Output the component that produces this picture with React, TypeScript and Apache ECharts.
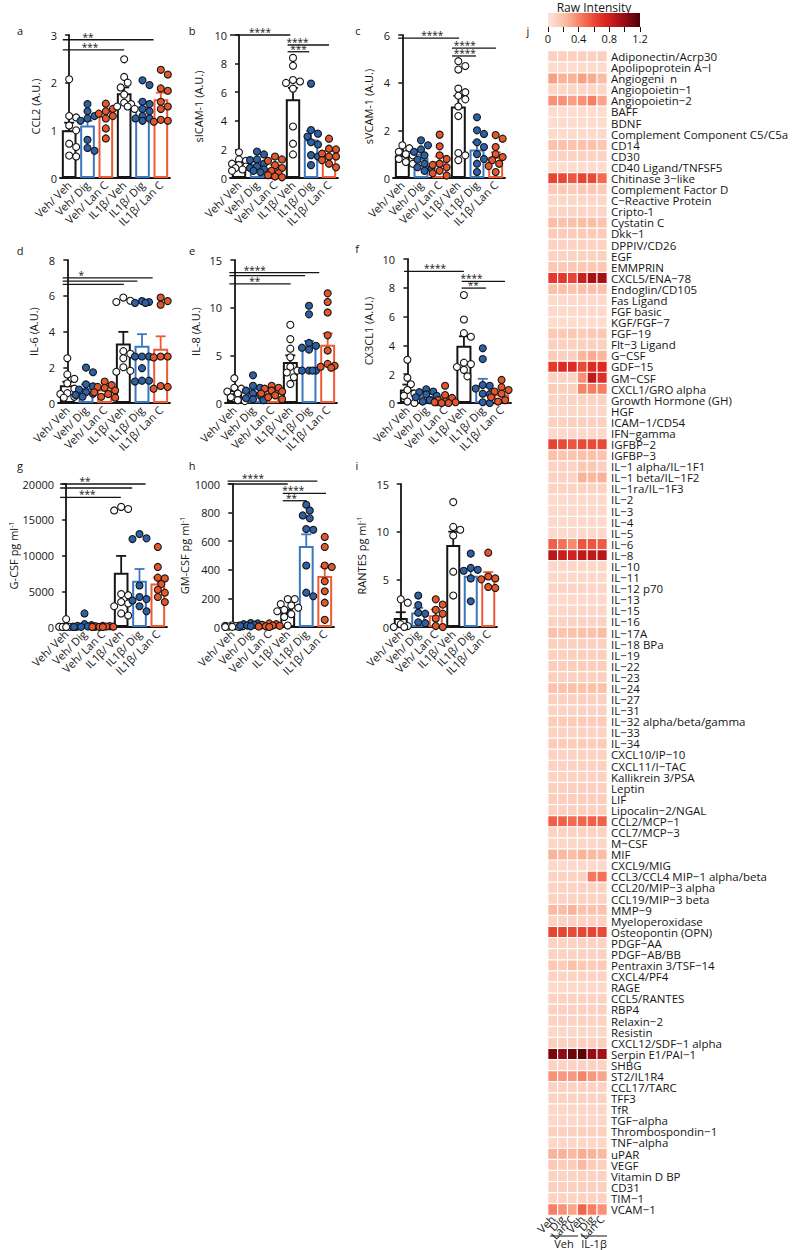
import React, { useEffect, useRef } from "react";
import * as echarts from "echarts";

const FONT = "'Open Sans', 'Noto Sans', sans-serif";

const groups = ["Veh/ Veh", "Veh/ Dig", "Veh/ Lan C", "IL1β/ Veh", "IL1β/ Dig", "IL1β/ Lan C"];
const barColors = ["#151515", "#3a77bf", "#ee5a32", "#151515", "#3a77bf", "#ee5a32"];
const dotFills = ["#ffffff", "#2c61a8", "#e5572b", "#ffffff", "#2c61a8", "#e5572b"];

// ---- a: CCL2 ----
const ccl2Means = [1.0, 1.1, 1.3, 1.78, 1.5, 1.65];
const ccl2Sems = [0.16, 0.1, 0.08, 0.12, 0.1, 0.14];
const ccl2Points = [
  [2.07, 1.27, 1.3, 1.1, 1.0, 0.65, 0.72, 0.45, 0.47],
  [1.55, 1.4, 1.3, 1.25, 1.2, 0.8, 0.63, 0.57],
  [1.56, 1.45, 1.4, 1.35, 1.3, 1.25, 1.04, 0.83],
  [2.49, 2.12, 2.0, 1.9, 1.75, 1.58, 1.55, 1.5, 1.5, 1.45],
  [2.05, 1.95, 1.6, 1.55, 1.45, 1.4, 1.3, 1.25, 1.25, 1.2],
  [2.27, 2.17, 1.88, 1.83, 1.6, 1.5, 1.45, 1.22, 1.2, 1.18],
];
const ccl2Sig: [number, number, number, number, string][] = [
  [-0.35, 4.6, 2.9, 1.03, "**"],
  [-0.35, 3.0, 2.69, 1.14, "***"],
];

// ---- b: sICAM-1 ----
const icamMeans = [0.95, 1.0, 0.7, 5.5, 2.7, 1.6];
const icamSems = [0.15, 0.15, 0.2, 0.8, 0.6, 0.3];
const icamPoints = [
  [1.8, 1.3, 1.2, 1.0, 0.9, 0.8, 0.7, 0.6, 0.5],
  [1.85, 1.65, 1.3, 1.25, 1.0, 0.8, 0.7, 0.6, 0.5, 0.4],
  [1.5, 1.3, 1.2, 0.9, 0.7, 0.5, 0.35, 0.2, 0.1, 0.05],
  [8.4, 7.85, 6.85, 6.75, 6.65, 6.25, 3.6, 2.4, 1.65],
  [6.6, 3.35, 3.1, 2.9, 2.5, 2.35, 1.6, 1.5, 0.9],
  [2.75, 2.05, 2.0, 1.7, 1.5, 1.5, 1.25, 1.0, 0.75],
];
const icamSig: [number, number, number, number, string][] = [
  [-0.5, 2.85, 10, 1.17, "****"],
  [2.7, 5.0, 9.3, 3.25, "****"],
  [2.7, 3.9, 8.83, 3.3, "***"],
];

// ---- c: sVCAM-1 ----
const vcamMeans = [0.95, 0.85, 0.7, 3.0, 1.2, 0.88];
const vcamSems = [0.1, 0.13, 0.2, 0.45, 0.3, 0.2];
const vcamPoints = [
  [1.37, 1.25, 1.1, 1.0, 0.95, 0.9, 0.8, 0.67, 0.6],
  [1.58, 1.37, 1.2, 1.1, 0.95, 0.77, 0.6, 0.45, 0.4, 0.3],
  [1.82, 1.33, 0.95, 0.8, 0.6, 0.55, 0.45, 0.3, 0.2, 0.1],
  [4.9, 4.7, 4.55, 3.75, 3.6, 3.45, 3.3, 3.0, 2.6, 1.05, 0.95, 0.75],
  [2.55, 2.0, 1.85, 1.5, 1.3, 1.0, 0.8, 0.6, 0.25],
  [1.8, 1.65, 1.3, 1.0, 0.88, 0.75, 0.6, 0.5, 0.25],
];
const vcamSig: [number, number, number, number, string][] = [
  [-0.23, 3.04, 5.87, 1.6, "****"],
  [2.66, 5.02, 5.45, 3.35, "****"],
  [2.66, 3.95, 5.12, 3.35, "****"],
];

// ---- d: IL-6 ----
const il6Means = [0.99, 0.84, 0.75, 3.33, 3.2, 3.03];
const il6Sems = [0.2, 0.2, 0.15, 0.65, 0.65, 0.7];
const il6Points = [
  [2.5, 1.6, 1.35, 1.1, 0.8, 0.55, 0.5, 0.35, 0.3, 0.15],
  [1.98, 1.72, 1.05, 0.93, 0.75, 0.6, 0.52, 0.45, 0.35],
  [1.2, 1.0, 0.9, 0.85, 0.7, 0.6, 0.5, 0.35, 0.3],
  [5.9, 5.72, 5.65, 2.9, 2.75, 2.5, 2.0, 1.8, 1.75],
  [5.7, 5.65, 5.6, 5.6, 2.6, 2.6, 2.6, 1.95, 1.25, 1.25, 1.2],
  [5.9, 5.7, 5.5, 2.6, 2.6, 2.55, 0.95, 0.9, 0.8],
];
const il6Sig: [number, number, number, number, string][] = [
  [-0.25, 4.57, 7.0, 0.75, "*"],
  [-0.25, 3.75, 6.82, 0, ""],
  [-0.25, 3.03, 6.64, 0, ""],
];

// ---- e: IL-8 ----
const il8Means = [1.0, 1.15, 1.1, 4.3, 5.9, 6.1];
const il8Sems = [0.25, 0.3, 0.15, 0.7, 0.6, 1.2];
const il8Points = [
  [2.6, 1.6, 1.5, 1.2, 1.0, 0.8, 0.6, 0.4, 0.3, 0.2],
  [2.9, 1.8, 1.6, 1.3, 1.0, 0.8, 0.5, 0.4, 0.3],
  [1.8, 1.6, 1.5, 1.3, 1.2, 1.0, 0.8, 0.6, 0.4],
  [8.2, 6.7, 5.7, 4.8, 3.8, 3.4, 3.2, 2.7, 2.0],
  [10.2, 9.3, 6.3, 6.0, 5.8, 5.6, 3.4, 3.4, 3.4, 3.4],
  [11.5, 10.6, 9.5, 7.1, 5.5, 4.1, 3.9, 3.8, 3.7],
];
const il8Sig: [number, number, number, number, string][] = [
  [-0.27, 4.55, 13.67, 1.1, "****"],
  [-0.27, 3.79, 13.36, 0, ""],
  [-0.27, 3.02, 12.49, 1.1, "**"],
];

// ---- f: CX3CL1 ----
const cx3Means = [0.93, 0.49, 0.23, 3.98, 1.23, 0.6];
const cx3Sems = [0.35, 0.15, 0.15, 0.65, 0.45, 0.2];
const cx3Points = [
  [3.0, 1.75, 1.3, 0.9, 0.65, 0.5, 0.3, 0.1, 0.0],
  [0.95, 0.8, 0.75, 0.6, 0.5, 0.4, 0.2, 0.1, 0.05],
  [1.2, 0.55, 0.35, 0.2, 0.1, 0.05, 0.05, 0.0, 0.0],
  [7.5, 5.8, 4.85, 4.6, 2.8, 2.7, 2.5, 2.3, 1.85],
  [3.8, 3.05, 1.25, 1.2, 1.0, 0.65, 0.6, 0.05, 0.0],
  [1.6, 1.1, 0.9, 0.8, 0.65, 0.5, 0.4, 0.2, 0.1],
];
const cx3Sig: [number, number, number, number, string][] = [
  [-0.18, 3.0, 9.14, 1.46, "****"],
  [2.88, 5.18, 8.44, 3.4, "****"],
  [2.88, 4.17, 7.98, 3.5, "**"],
];

// ---- g: G-CSF ----
const gcsfMeans = [50, 250, 100, 7590, 6460, 6090];
const gcsfSems = [60, 200, 40, 2350, 1650, 850];
const gcsfPoints = [
  [1100, 100, 60, 40, 30, 20, 10, 0, 0, 0],
  [1900, 400, 250, 150, 80, 40, 20, 0],
  [150, 120, 90, 60, 40, 20, 10, 0],
  [16800, 16500, 16300, 4600, 4450, 3500, 3300, 2900, 1900, 1600],
  [13000, 12400, 12300, 5800, 4200, 3900, 3700, 2900, 2200],
  [11200, 8400, 6900, 6800, 6000, 5200, 4800, 4200, 3500],
];
const gcsfSig: [number, number, number, number, string][] = [
  [-0.33, 4.33, 20000, 1.03, "**"],
  [-0.33, 3.6, 19440, 0, ""],
  [-0.33, 2.98, 18130, 1.15, "***"],
];

// ---- h: GM-CSF ----
const gmcsfMeans = [5, 15, 10, 100, 566, 357];
const gmcsfSems = [2, 5, 4, 20, 82, 65];
const gmcsfPoints = [
  [12, 10, 8, 6, 5, 3, 2, 1, 0, 0],
  [28, 25, 20, 15, 12, 10, 8, 5],
  [25, 20, 15, 10, 8, 5, 3, 0],
  [195, 195, 160, 150, 135, 120, 110, 90, 70, 10],
  [855, 815, 780, 760, 685, 680, 430, 240, 215],
  [630, 560, 430, 420, 320, 250, 170, 50],
];
const gmcsfSig: [number, number, number, number, string][] = [
  [-0.25, 4.6, 1020, 1.12, "****"],
  [-0.25, 3.0, 1000, 0, ""],
  [2.73, 5.07, 935, 3.3, "****"],
  [2.73, 4.02, 883, 3.2, "**"],
];

// ---- i: RANTES ----
const rantesMeans = [0.95, 1.51, 1.23, 8.6, 5.37, 5.16];
const rantesSems = [0.6, 0.5, 0.6, 1.4, 0.7, 0.6];
const rantesPoints = [
  [2.9, 2.55, 0.3, 0.1, 0.0, 0.0],
  [3.3, 2.3, 1.5, 1.4, 0.5, 0.4],
  [2.9, 2.35, 1.8, 1.4, 0.9, 0.1, 0.0],
  [13.1, 10.5, 10.2, 9.6, 5.8, 3.3],
  [7.7, 6.2, 6.0, 5.9, 5.1, 2.7],
  [7.8, 5.3, 5.1, 5.0, 4.2, 4.1],
];
const rantesSig: [number, number, number, number, string][] = [];

// ---- j: heatmap ----
const heatColumns = ["Veh", "Dig", "Lan C", "Veh", "Dig", "Lan C"];
const heatColors = ["#fde6dc", "#fbb9a0", "#f46a4e", "#de2a22", "#a50f15", "#4f0008"];
const proteins = [
  "Adiponectin/Acrp30", "Apolipoprotein A−I", "Angiogeni  n", "Angiopoietin−1", "Angiopoietin−2",
  "BAFF", "BDNF", "Complement Component C5/C5a", "CD14", "CD30", "CD40 Ligand/TNFSF5",
  "Chitinase 3−like", "Complement Factor D", "C−Reactive Protein", "Cripto-1", "Cystatin C",
  "Dkk−1", "DPPIV/CD26", "EGF", "EMMPRIN", "CXCL5/ENA−78", "Endoglin/CD105", "Fas Ligand",
  "FGF basic", "KGF/FGF−7", "FGF−19", "Flt−3 Ligand", "G−CSF", "GDF−15", "GM−CSF",
  "CXCL1/GRO alpha", "Growth Hormone (GH)", "HGF", "ICAM−1/CD54", "IFN−gamma", "IGFBP−2",
  "IGFBP−3", "IL−1 alpha/IL−1F1", "IL−1 beta/IL−1F2", "IL−1ra/IL−1F3", "IL−2", "IL−3", "IL−4",
  "IL−5", "IL−6", "IL−8", "IL−10", "IL−11", "IL−12 p70", "IL−13", "IL−15", "IL−16", "IL−17A",
  "IL−18 BPa", "IL−19", "IL−22", "IL−23", "IL−24", "IL−27", "IL−31", "IL−32 alpha/beta/gamma",
  "IL−33", "IL−34", "CXCL10/IP−10", "CXCL11/I−TAC", "Kallikrein 3/PSA", "Leptin", "LIF",
  "Lipocalin−2/NGAL", "CCL2/MCP−1", "CCL7/MCP−3", "M−CSF", "MIF", "CXCL9/MIG",
  "CCL3/CCL4 MIP−1 alpha/beta", "CCL20/MIP−3 alpha", "CCL19/MIP−3 beta", "MMP−9",
  "Myeloperoxidase", "Osteopontin (OPN)", "PDGF−AA", "PDGF−AB/BB", "Pentraxin 3/TSF−14",
  "CXCL4/PF4", "RAGE", "CCL5/RANTES", "RBP4", "Relaxin−2", "Resistin", "CXCL12/SDF−1 alpha",
  "Serpin E1/PAI−1", "SHBG", "ST2/IL1R4", "CCL17/TARC", "TFF3", "TfR", "TGF−alpha",
  "Thrombospondin−1", "TNF−alpha", "uPAR", "VEGF", "Vitamin D BP", "CD31", "TIM−1", "VCAM−1",
];
const intensity: number[][] = [
  [0.12, 0.12, 0.12, 0.12, 0.12, 0.12],
  [0.06, 0.06, 0.06, 0.06, 0.06, 0.06],
  [0.32, 0.26, 0.26, 0.32, 0.28, 0.22],
  [0.08, 0.08, 0.08, 0.08, 0.08, 0.08],
  [0.36, 0.36, 0.32, 0.36, 0.42, 0.3],
  [0.05, 0.05, 0.05, 0.05, 0.05, 0.05],
  [0.06, 0.06, 0.06, 0.06, 0.06, 0.06],
  [0.07, 0.07, 0.07, 0.07, 0.07, 0.07],
  [0.2, 0.2, 0.18, 0.2, 0.2, 0.16],
  [0.1, 0.1, 0.1, 0.1, 0.1, 0.1],
  [0.06, 0.06, 0.06, 0.06, 0.06, 0.06],
  [0.62, 0.6, 0.55, 0.62, 0.6, 0.48],
  [0.16, 0.16, 0.14, 0.16, 0.16, 0.14],
  [0.08, 0.08, 0.08, 0.08, 0.08, 0.08],
  [0.09, 0.09, 0.09, 0.09, 0.09, 0.09],
  [0.22, 0.2, 0.2, 0.22, 0.22, 0.18],
  [0.15, 0.15, 0.14, 0.15, 0.15, 0.14],
  [0.1, 0.1, 0.1, 0.1, 0.1, 0.1],
  [0.1, 0.1, 0.1, 0.1, 0.1, 0.1],
  [0.16, 0.16, 0.16, 0.16, 0.16, 0.16],
  [0.66, 0.66, 0.62, 0.8, 0.95, 0.95],
  [0.2, 0.2, 0.18, 0.2, 0.2, 0.2],
  [0.07, 0.07, 0.07, 0.07, 0.07, 0.07],
  [0.07, 0.07, 0.07, 0.07, 0.07, 0.07],
  [0.06, 0.06, 0.06, 0.06, 0.06, 0.06],
  [0.16, 0.16, 0.16, 0.14, 0.16, 0.16],
  [0.12, 0.12, 0.12, 0.12, 0.12, 0.12],
  [0.14, 0.12, 0.12, 0.25, 0.28, 0.25],
  [0.66, 0.72, 0.72, 0.6, 0.72, 0.72],
  [0.1, 0.1, 0.1, 0.36, 0.85, 0.7],
  [0.14, 0.12, 0.12, 0.4, 0.42, 0.42],
  [0.1, 0.1, 0.1, 0.1, 0.1, 0.1],
  [0.08, 0.08, 0.08, 0.08, 0.08, 0.08],
  [0.12, 0.12, 0.12, 0.12, 0.12, 0.12],
  [0.07, 0.07, 0.07, 0.07, 0.07, 0.07],
  [0.62, 0.6, 0.56, 0.6, 0.6, 0.6],
  [0.2, 0.18, 0.18, 0.2, 0.2, 0.18],
  [0.1, 0.1, 0.1, 0.16, 0.16, 0.12],
  [0.1, 0.1, 0.1, 0.26, 0.24, 0.26],
  [0.1, 0.1, 0.1, 0.1, 0.1, 0.1],
  [0.07, 0.07, 0.07, 0.07, 0.07, 0.07],
  [0.07, 0.07, 0.07, 0.07, 0.07, 0.07],
  [0.07, 0.07, 0.07, 0.07, 0.07, 0.07],
  [0.07, 0.07, 0.07, 0.07, 0.07, 0.07],
  [0.52, 0.46, 0.38, 0.56, 0.56, 0.54],
  [0.88, 0.82, 0.78, 0.86, 0.86, 0.88],
  [0.08, 0.08, 0.08, 0.08, 0.08, 0.08],
  [0.07, 0.07, 0.07, 0.07, 0.07, 0.07],
  [0.09, 0.09, 0.09, 0.09, 0.09, 0.09],
  [0.07, 0.07, 0.07, 0.07, 0.07, 0.07],
  [0.08, 0.08, 0.08, 0.08, 0.08, 0.08],
  [0.1, 0.1, 0.1, 0.1, 0.1, 0.1],
  [0.2, 0.18, 0.2, 0.2, 0.2, 0.22],
  [0.12, 0.12, 0.12, 0.12, 0.12, 0.12],
  [0.12, 0.12, 0.12, 0.12, 0.12, 0.12],
  [0.13, 0.13, 0.13, 0.13, 0.13, 0.13],
  [0.12, 0.12, 0.12, 0.12, 0.12, 0.12],
  [0.2, 0.2, 0.2, 0.2, 0.2, 0.2],
  [0.12, 0.12, 0.12, 0.12, 0.12, 0.12],
  [0.1, 0.1, 0.1, 0.1, 0.1, 0.1],
  [0.14, 0.14, 0.14, 0.14, 0.14, 0.14],
  [0.1, 0.1, 0.1, 0.1, 0.1, 0.1],
  [0.14, 0.14, 0.14, 0.14, 0.14, 0.14],
  [0.1, 0.1, 0.1, 0.1, 0.1, 0.1],
  [0.1, 0.1, 0.1, 0.1, 0.1, 0.1],
  [0.1, 0.1, 0.1, 0.1, 0.1, 0.1],
  [0.12, 0.12, 0.12, 0.12, 0.12, 0.12],
  [0.13, 0.13, 0.13, 0.13, 0.13, 0.13],
  [0.12, 0.12, 0.12, 0.12, 0.12, 0.12],
  [0.52, 0.52, 0.48, 0.5, 0.52, 0.52],
  [0.1, 0.1, 0.1, 0.1, 0.1, 0.1],
  [0.08, 0.08, 0.08, 0.08, 0.08, 0.08],
  [0.26, 0.24, 0.22, 0.26, 0.24, 0.22],
  [0.07, 0.07, 0.07, 0.07, 0.07, 0.07],
  [0.1, 0.1, 0.1, 0.1, 0.44, 0.46],
  [0.1, 0.1, 0.1, 0.1, 0.1, 0.1],
  [0.1, 0.1, 0.1, 0.1, 0.1, 0.1],
  [0.24, 0.22, 0.26, 0.2, 0.2, 0.2],
  [0.1, 0.1, 0.1, 0.1, 0.1, 0.1],
  [0.62, 0.62, 0.6, 0.62, 0.62, 0.6],
  [0.1, 0.1, 0.1, 0.1, 0.1, 0.1],
  [0.1, 0.1, 0.1, 0.1, 0.1, 0.1],
  [0.16, 0.14, 0.2, 0.16, 0.14, 0.14],
  [0.1, 0.1, 0.1, 0.1, 0.1, 0.1],
  [0.07, 0.07, 0.07, 0.07, 0.07, 0.07],
  [0.1, 0.1, 0.1, 0.1, 0.1, 0.1],
  [0.12, 0.12, 0.12, 0.12, 0.12, 0.12],
  [0.1, 0.1, 0.1, 0.1, 0.1, 0.1],
  [0.08, 0.08, 0.08, 0.08, 0.08, 0.08],
  [0.12, 0.12, 0.12, 0.12, 0.12, 0.12],
  [1.08, 1.02, 1.12, 1.16, 1.0, 0.96],
  [0.1, 0.1, 0.1, 0.1, 0.1, 0.1],
  [0.36, 0.34, 0.34, 0.4, 0.34, 0.3],
  [0.1, 0.1, 0.1, 0.1, 0.1, 0.1],
  [0.1, 0.1, 0.1, 0.1, 0.1, 0.1],
  [0.08, 0.08, 0.08, 0.08, 0.08, 0.08],
  [0.08, 0.08, 0.08, 0.08, 0.08, 0.08],
  [0.12, 0.12, 0.12, 0.12, 0.12, 0.12],
  [0.08, 0.08, 0.08, 0.08, 0.08, 0.08],
  [0.26, 0.26, 0.24, 0.28, 0.26, 0.24],
  [0.16, 0.14, 0.14, 0.24, 0.14, 0.12],
  [0.1, 0.1, 0.1, 0.1, 0.1, 0.1],
  [0.12, 0.12, 0.12, 0.12, 0.12, 0.12],
  [0.1, 0.1, 0.1, 0.1, 0.1, 0.1],
  [0.42, 0.36, 0.3, 0.5, 0.42, 0.36],
];

type Panel = {
  key: string;
  name: string;
  means: number[];
  sems: number[];
  points: number[][];
  sig: [number, number, number, number, string][];
  max: number;
  interval: number;
  box: { left: number; top: number; width: number; height: number };
  nameGap: number;
  letter: [number, number];
};

const panels: Panel[] = [
  { key: "a", name: "CCL2 (A.U.)", means: ccl2Means, sems: ccl2Sems, points: ccl2Points, sig: ccl2Sig, max: 3, interval: 1, box: { left: 60, top: 35, width: 110, height: 143 }, nameGap: 19, letter: [20, 30] },
  { key: "b", name: "sICAM-1 (A.U.)", means: icamMeans, sems: icamSems, points: icamPoints, sig: icamSig, max: 10, interval: 2, box: { left: 230, top: 35, width: 108, height: 143 }, nameGap: 26, letter: [192, 30] },
  { key: "c", name: "sVCAM-1 (A.U.)", means: vcamMeans, sems: vcamSems, points: vcamPoints, sig: vcamSig, max: 6, interval: 2, box: { left: 393, top: 35, width: 112, height: 143 }, nameGap: 19, letter: [358, 30] },
  { key: "d", name: "IL-6 (A.U.)", means: il6Means, sems: il6Sems, points: il6Points, sig: il6Sig, max: 8, interval: 2, box: { left: 58, top: 260, width: 112, height: 143 }, nameGap: 19, letter: [20, 250] },
  { key: "e", name: "IL-8 (A.U.)", means: il8Means, sems: il8Sems, points: il8Points, sig: il8Sig, max: 15, interval: 5, box: { left: 225, top: 260, width: 112, height: 143 }, nameGap: 24, letter: [192, 250] },
  { key: "f", name: "CX3CL1 (A.U.)", means: cx3Means, sems: cx3Sems, points: cx3Points, sig: cx3Sig, max: 10, interval: 2, box: { left: 398, top: 259, width: 113, height: 144 }, nameGap: 24, letter: [357, 248] },
  { key: "g", name: "G-CSF pg ml{sup|-1}", means: gcsfMeans, sems: gcsfSems, points: gcsfPoints, sig: gcsfSig, max: 20000, interval: 5000, box: { left: 57, top: 484, width: 110, height: 143 }, nameGap: 37, letter: [20, 465] },
  { key: "h", name: "GM-CSF pg ml{sup|-1}", means: gmcsfMeans, sems: gmcsfSems, points: gmcsfPoints, sig: gmcsfSig, max: 1000, interval: 200, box: { left: 223, top: 484, width: 111, height: 143 }, nameGap: 33, letter: [192, 465] },
  { key: "i", name: "RANTES pg ml{sup|-1}", means: rantesMeans, sems: rantesSems, points: rantesPoints, sig: rantesSig, max: 15, interval: 5, box: { left: 392, top: 484, width: 105, height: 143 }, nameGap: 25, letter: [357, 465] },
];

// deterministic beeswarm offsets (in category units)
function swarm(values: number[], pxPerUnit: number, catPx: number, diam: number): number[] {
  const order = values.map((_, i) => i).sort((a, b) => values[b] - values[a]);
  const placed: { x: number; y: number }[] = [];
  const offs = new Array(values.length).fill(0);
  const maxOff = catPx * 0.58;
  const step = diam * 0.5;
  for (const i of order) {
    const y = values[i] * pxPerUnit;
    const cand = [0];
    for (let k = 1; k <= 6; k++) cand.push(k * step, -k * step);
    let best = 0;
    let bestScore = -Infinity;
    for (const c of cand) {
      if (Math.abs(c) > maxOff) continue;
      let minD = Infinity;
      for (const p of placed) {
        const d = Math.hypot(p.x - c, p.y - y);
        if (d < minD) minD = d;
      }
      if (minD >= diam * 0.95) {
        best = c;
        break;
      }
      if (minD > bestScore) {
        bestScore = minD;
        best = c;
      }
    }
    placed.push({ x: best, y });
    offs[i] = best / catPx;
  }
  return offs;
}

const errRender = (params: any, api: any) => {
  const i = api.value(0);
  const m = api.value(1);
  const s = api.value(2);
  const top = api.coord([i, m + s]);
  const bot = api.coord([i, Math.max(0, m - s)]);
  const col = barColors[params.dataIndex];
  const cap = 5;
  const st = { stroke: col, lineWidth: 1.8 };
  return {
    type: "group",
    children: [
      { type: "line", shape: { x1: top[0], y1: top[1], x2: bot[0], y2: bot[1] }, style: st },
      { type: "line", shape: { x1: top[0] - cap, y1: top[1], x2: top[0] + cap, y2: top[1] }, style: st },
      { type: "line", shape: { x1: bot[0] - cap, y1: bot[1], x2: bot[0] + cap, y2: bot[1] }, style: st },
    ],
  };
};

const makeSigRender = (labels: string[]) => (params: any, api: any) => {
  const y = api.value(2);
  const a = api.coord([api.value(0), y]);
  const b = api.coord([api.value(1), y]);
  const t = api.coord([api.value(3), y]);
  const children: any[] = [
    { type: "line", shape: { x1: a[0], y1: a[1], x2: b[0], y2: b[1] }, style: { stroke: "#151515", lineWidth: 1.3 } },
  ];
  const lab = labels[params.dataIndex];
  if (lab) {
    children.push({
      type: "text",
      x: t[0],
      y: a[1] + 1,
      style: {
        text: lab,
        fill: "#151515",
        font: `10px ${FONT}`,
        lineHeight: 8,
        align: "center",
        verticalAlign: "bottom",
        textAlign: "center",
        textVerticalAlign: "bottom",
      },
    });
  }
  return { type: "group", children };
};

function buildOption() {
  const grid: any[] = [];
  const xAxis: any[] = [];
  const yAxis: any[] = [];
  const series: any[] = [];
  const graphic: any[] = [];

  panels.forEach((p) => {
    grid.push({ ...p.box });
    const gi = grid.length - 1;
    const xCat = xAxis.length;
    xAxis.push({
      type: "category",
      gridIndex: gi,
      data: groups,
      axisLine: { lineStyle: { color: "#151515", width: 1.8 } },
      axisTick: { alignWithLabel: true, length: 4, lineStyle: { color: "#151515", width: 1.5 } },
      axisLabel: { rotate: 45, interval: 0, fontSize: 11, color: "#151515", margin: 5, fontFamily: FONT },
    });
    const xVal = xAxis.length;
    xAxis.push({ type: "value", gridIndex: gi, min: -0.5, max: 5.5, show: false });
    const yi = yAxis.length;
    yAxis.push({
      type: "value",
      gridIndex: gi,
      min: 0,
      max: p.max,
      interval: p.interval,
      name: p.name,
      nameLocation: "middle",
      nameGap: p.nameGap,
      nameTextStyle: {
        fontSize: 11,
        color: "#151515",
        fontFamily: FONT,
        rich: { sup: { fontSize: 7, verticalAlign: "top", color: "#151515", fontFamily: FONT } },
      },
      axisLine: { show: true, lineStyle: { color: "#151515", width: 1.8 } },
      axisTick: { show: true, length: 4, lineStyle: { color: "#151515", width: 1.5 } },
      axisLabel: { fontSize: 11, color: "#151515", margin: 3, fontFamily: FONT, formatter: (v: number) => String(v) },
      splitLine: { show: false },
    });
    series.push({
      type: "bar",
      xAxisIndex: xCat,
      yAxisIndex: yi,
      barWidth: "80%",
      silent: true,
      data: p.means.map((m, i) => ({
        value: m,
        itemStyle: { color: "#ffffff", borderColor: barColors[i], borderWidth: 2 },
      })),
    });
    const pxPerUnit = p.box.height / p.max;
    const catPx = p.box.width / 6;
    const dots: any[] = [];
    p.points.forEach((vals, g) => {
      const offs = swarm(vals, pxPerUnit, catPx, 7);
      vals.forEach((v, k) => dots.push({ value: [g + offs[k], v], itemStyle: { color: dotFills[g] } }));
    });
    series.push({
      type: "scatter",
      xAxisIndex: xVal,
      yAxisIndex: yi,
      symbol: "circle",
      symbolSize: 7,
      silent: true,
      itemStyle: { borderColor: "#151515", borderWidth: 1.1, opacity: 1 },
      data: dots,
    });
    series.push({
      type: "custom",
      xAxisIndex: xVal,
      yAxisIndex: yi,
      silent: true,
      data: p.means.map((m, i) => [i, m, p.sems[i]]),
      renderItem: errRender,
    });
    if (p.sig.length) {
      series.push({
        type: "custom",
        xAxisIndex: xVal,
        yAxisIndex: yi,
        silent: true,
        clip: false,
        data: p.sig.map((s) => [s[0], s[1], s[2], s[3]]),
        renderItem: makeSigRender(p.sig.map((s) => s[4])),
      });
    }
    graphic.push({
      type: "text",
      x: p.letter[0],
      y: p.letter[1],
      style: { text: p.key, fill: "#151515", font: `11px ${FONT}`, textAlign: "center", textVerticalAlign: "middle", align: "center", verticalAlign: "middle" },
    });
  });

  // heatmap
  grid.push({ left: 548, top: 51, width: 59, height: 1164 });
  const hg = grid.length - 1;
  const hx = xAxis.length;
  xAxis.push({
    type: "category",
    gridIndex: hg,
    data: heatColumns,
    axisLine: { show: false },
    axisTick: { show: false },
    axisLabel: { rotate: 45, interval: 0, fontSize: 11, lineHeight: 11, color: "#151515", margin: 2, fontFamily: FONT },
  });
  const hy = yAxis.length;
  yAxis.push({
    type: "category",
    gridIndex: hg,
    data: proteins,
    inverse: true,
    position: "right",
    axisLine: { show: false },
    axisTick: { show: false },
    axisLabel: { interval: 0, fontSize: 11.5, lineHeight: 11, color: "#151515", margin: 4, fontFamily: FONT },
  });
  const heatData: number[][] = [];
  intensity.forEach((row, r) => row.forEach((v, c) => heatData.push([c, r, v])));
  const heatIdx = series.length;
  series.push({
    type: "heatmap",
    xAxisIndex: hx,
    yAxisIndex: hy,
    data: heatData,
    silent: true,
    itemStyle: { borderColor: "#ffffff", borderWidth: 1.2 },
  });

  // colorbar axis
  grid.push({ left: 548, top: 13, width: 92, height: 14 });
  const cg = grid.length - 1;
  const cx = xAxis.length;
  xAxis.push({
    type: "value",
    gridIndex: cg,
    min: 0,
    max: 1.2,
    interval: 0.2,
    axisLine: { show: false },
    axisTick: { show: true, length: 5, lineStyle: { color: "#151515", width: 1 } },
    splitLine: { show: false },
    axisLabel: {
      fontSize: 11,
      color: "#151515",
      margin: 6,
      fontFamily: FONT,
      formatter: (v: number) => {
        const k = Math.round(v * 10);
        if (k % 4 !== 0) return "";
        return k === 0 ? "0" : (k / 10).toFixed(1);
      },
    },
  });
  const cy = yAxis.length;
  yAxis.push({ type: "value", gridIndex: cg, show: false, min: 0, max: 1 });
  series.push({ type: "line", xAxisIndex: cx, yAxisIndex: cy, data: [], silent: true });

  graphic.push({
    type: "rect",
    z: 10,
    shape: { x: 548, y: 13, width: 92, height: 14 },
    style: {
      fill: new echarts.graphic.LinearGradient(0, 0, 1, 0, heatColors.map((c, i) => ({ offset: i / (heatColors.length - 1), color: c }))),
    },
  });
  graphic.push({
    type: "text",
    x: 594,
    y: 1,
    style: { text: "Raw Intensity", fill: "#151515", font: `12px ${FONT}`, lineHeight: 12, textAlign: "center", align: "center", textVerticalAlign: "top", verticalAlign: "top" },
  });
  graphic.push({
    type: "text",
    x: 528,
    y: 30,
    style: { text: "j", fill: "#151515", font: `11px ${FONT}`, textAlign: "center", align: "center", textVerticalAlign: "middle", verticalAlign: "middle" },
  });
  // group annotations under heatmap
  graphic.push({ type: "line", shape: { x1: 550, y1: 1236, x2: 578, y2: 1236 }, style: { stroke: "#151515", lineWidth: 1 } });
  graphic.push({ type: "line", shape: { x1: 581, y1: 1236, x2: 607, y2: 1236 }, style: { stroke: "#151515", lineWidth: 1 } });
  graphic.push({
    type: "text",
    x: 564,
    y: 1238,
    style: { text: "Veh", fill: "#151515", font: `11px ${FONT}`, lineHeight: 11, textAlign: "center", align: "center", textVerticalAlign: "top", verticalAlign: "top" },
  });
  graphic.push({
    type: "text",
    x: 594,
    y: 1238,
    style: { text: "IL-1β", fill: "#151515", font: `11px ${FONT}`, lineHeight: 11, textAlign: "center", align: "center", textVerticalAlign: "top", verticalAlign: "top" },
  });

  return {
    animation: false,
    backgroundColor: "#ffffff",
    textStyle: { fontFamily: FONT },
    grid,
    xAxis,
    yAxis,
    series,
    graphic,
    visualMap: {
      type: "continuous",
      show: false,
      min: 0,
      max: 1.2,
      dimension: 2,
      seriesIndex: heatIdx,
      inRange: { color: heatColors },
    },
  };
}

export default function App() {
  const ref = useRef<HTMLDivElement>(null);
  useEffect(() => {
    if (!ref.current) return;
    const chart = echarts.init(ref.current, undefined, { renderer: "svg" });
    chart.setOption(buildOption() as any);
    return () => chart.dispose();
  }, []);
  return <div ref={ref} style={{ position: "absolute", left: 0, top: 0, width: 794, height: 1250 }} />;
}
